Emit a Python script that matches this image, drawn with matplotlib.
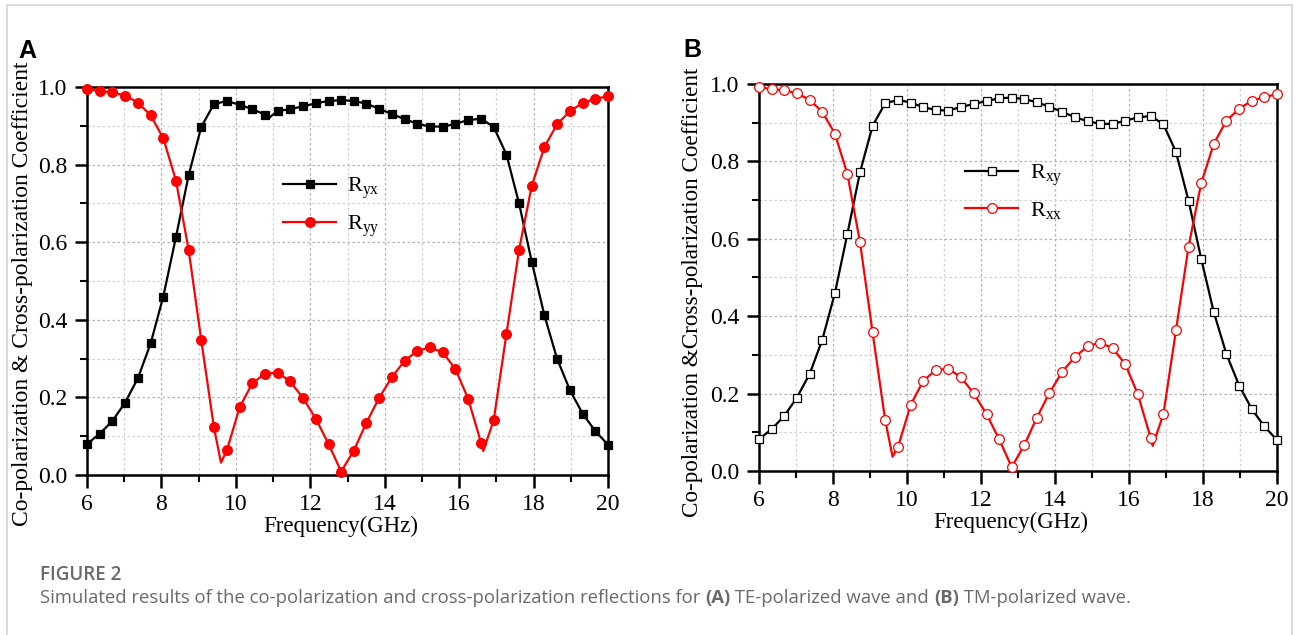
import matplotlib
matplotlib.use("Agg")
import matplotlib.pyplot as plt
from matplotlib.lines import Line2D
from matplotlib.font_manager import FontProperties
from matplotlib.ticker import MultipleLocator, FormatStrFormatter
import numpy as np

plt.rcParams['font.family'] = ['Liberation Serif', 'DejaVu Serif']
plt.rcParams['mathtext.fontset'] = 'custom'
plt.rcParams['mathtext.rm'] = 'Liberation Serif'
plt.rcParams['mathtext.it'] = 'Liberation Serif:italic'

# frequency samples (GHz) where the markers sit
freq = [6.00, 6.34, 6.68, 7.02, 7.37, 7.71, 8.05, 8.39, 8.73, 9.07, 9.41,
        9.76, 10.10, 10.44, 10.78, 11.12, 11.46, 11.80, 12.15, 12.49, 12.83,
        13.17, 13.51, 13.85, 14.20, 14.54, 14.88, 15.22, 15.56, 15.90, 16.24,
        16.59, 16.93, 17.27, 17.61, 17.95, 18.29, 18.63, 18.98, 19.32, 19.66,
        20.00]

# (A) TE wave
r_yx = [0.080, 0.106, 0.139, 0.186, 0.250, 0.339, 0.460, 0.613, 0.772, 0.897,
        0.956, 0.964, 0.954, 0.943, 0.929, 0.938, 0.943, 0.950, 0.958, 0.964,
        0.966, 0.964, 0.957, 0.944, 0.930, 0.917, 0.905, 0.898, 0.898, 0.905,
        0.915, 0.918, 0.897, 0.826, 0.700, 0.550, 0.412, 0.300, 0.218, 0.158,
        0.113, 0.078]
r_yy = [0.994, 0.990, 0.986, 0.978, 0.960, 0.927, 0.868, 0.759, 0.581, 0.348,
        0.123, 0.064, 0.174, 0.236, 0.261, 0.264, 0.241, 0.199, 0.145, 0.080,
        0.009, 0.063, 0.135, 0.199, 0.253, 0.295, 0.320, 0.329, 0.316, 0.273,
        0.197, 0.083, 0.142, 0.363, 0.580, 0.745, 0.845, 0.904, 0.938, 0.959,
        0.970, 0.976]
# sharp features of the curves that fall between markers
r_yx_extra_f = [10.90]
r_yx_extra_v = [0.921]
r_yy_extra_f = [9.60, 16.65]
r_yy_extra_v = [0.032, 0.062]

# (B) TM wave
r_xy = [0.082, 0.108, 0.142, 0.189, 0.251, 0.339, 0.459, 0.613, 0.772, 0.892,
        0.950, 0.959, 0.952, 0.940, 0.933, 0.931, 0.941, 0.948, 0.956, 0.963,
        0.965, 0.961, 0.953, 0.941, 0.928, 0.914, 0.904, 0.897, 0.897, 0.905,
        0.914, 0.917, 0.896, 0.824, 0.698, 0.549, 0.411, 0.303, 0.220, 0.160,
        0.115, 0.080]
r_xx = [0.993, 0.986, 0.984, 0.976, 0.959, 0.928, 0.872, 0.767, 0.591, 0.358,
        0.132, 0.063, 0.171, 0.233, 0.261, 0.264, 0.242, 0.201, 0.147, 0.082,
        0.010, 0.067, 0.138, 0.202, 0.257, 0.295, 0.322, 0.332, 0.317, 0.276,
        0.198, 0.084, 0.147, 0.364, 0.580, 0.743, 0.845, 0.905, 0.936, 0.957,
        0.966, 0.974]
r_xy_extra_f = []
r_xy_extra_v = []
r_xx_extra_f = [9.61, 16.64]
r_xx_extra_v = [0.037, 0.065]

x_ticks = [6, 8, 10, 12, 14, 16, 18, 20]
y_ticks = [0.0, 0.2, 0.4, 0.6, 0.8, 1.0]


def with_extra(f, v, ef, ev):
    # markers plus the extra points, sorted by frequency, for the line
    ff = np.array(list(f) + list(ef))
    vv = np.array(list(v) + list(ev))
    order = np.argsort(ff)
    return ff[order], vv[order]


def draw_panel(ax, cross, co, cross_extra, co_extra, filled):
    ax.xaxis.set_minor_locator(MultipleLocator(1))
    ax.yaxis.set_minor_locator(MultipleLocator(0.1))
    ax.grid(which='major', color='#b4b4b4', linestyle=(0, (2, 2)), linewidth=0.9)
    ax.grid(which='minor', color='#d2d2d2', linestyle=(0, (2, 2)), linewidth=0.9)
    ax.set_axisbelow(True)

    fk, vk = with_extra(freq, cross, *cross_extra)
    fr, vr = with_extra(freq, co, *co_extra)
    ax.plot(fk, vk, color='black', lw=1.6, zorder=3)
    ax.plot(fr, vr, color='#ff0000', lw=1.6, zorder=3)
    sq_face = 'black' if filled else 'white'
    ci_face = '#ff0000' if filled else 'white'
    ax.plot(freq, cross, ls='none', marker='s', ms=6, mfc=sq_face,
            mec='black', mew=0.9, zorder=4, clip_on=False)
    ax.plot(freq, co, ls='none', marker='o', ms=7, mfc=ci_face,
            mec='#ff0000', mew=0.9, zorder=4, clip_on=False)

    handles = [Line2D([], [], color='black', lw=1.6, marker='s', ms=6,
                      mfc=sq_face, mec='black', mew=0.9),
               Line2D([], [], color='#ff0000', lw=1.6, marker='o', ms=7,
                      mfc=ci_face, mec='#ff0000', mew=0.9)]
    return handles


fig = plt.figure(figsize=(12.98, 6.35), dpi=100)
W, H = 1298, 635

axA = fig.add_axes([87 / W, 1 - 475 / H, 521 / W, 388 / H])
axB = fig.add_axes([759 / W, 1 - 471 / H, 518 / W, 387 / H])

panels = [
    (axA, r_yx, r_yy, (r_yx_extra_f, r_yx_extra_v), (r_yy_extra_f, r_yy_extra_v),
     [r'R$_\mathregular{yx}$', r'R$_\mathregular{yy}$'],
     'Co-polarization & Cross-polarization Coefficient', True, (0.376, 0.690),
     17, (-0.104, 0.466)),
    (axB, r_xy, r_xx, (r_xy_extra_f, r_xy_extra_v), (r_xx_extra_f, r_xx_extra_v),
     [r'R$_\mathregular{xy}$', r'R$_\mathregular{xx}$'],
     'Co-polarization &Cross-polarization Coefficient', False, (0.398, 0.722),
     16.7, (-0.108, 0.461)),
]

tick_font = FontProperties(family='Liberation Serif', size=17)

for ax, cross, co, ce, coe, labels, ylabel, filled, legpos, ysize, ypos in panels:
    handles = draw_panel(ax, cross, co, ce, coe, filled)
    ax.set_xlim(6, 20)
    ax.set_ylim(0, 1)
    ax.set_xticks(x_ticks)
    ax.set_yticks(y_ticks)
    ax.set_xticklabels([str(v) for v in x_ticks], fontproperties=tick_font)
    ax.set_yticklabels(['%.1f' % v for v in y_ticks], fontproperties=tick_font)
    ax.tick_params(which='major', direction='out', length=9, width=1.8, pad=5)
    ax.tick_params(which='minor', direction='out', length=5, width=1.5)
    for sp in ax.spines.values():
        sp.set_linewidth(1.8)
    ax.set_xlabel('Frequency(GHz)', fontsize=16.5, labelpad=0)
    ax.xaxis.set_label_coords(0.487, -0.105)
    ax.set_ylabel(ylabel, fontsize=ysize)
    ax.yaxis.set_label_coords(*ypos)
    ax.legend(handles, labels, loc='center left', bbox_to_anchor=legpos,
              frameon=False, fontsize=16, borderpad=0, borderaxespad=0,
              handlelength=2.4, handletextpad=0.5, labelspacing=0.55)

fig.text(18 / W, 1 - 58 / H, 'A', fontsize=18, fontweight='bold',
         family='Liberation Sans', ha='left', va='baseline')
fig.text(683 / W, 1 - 57 / H, 'B', fontsize=18, fontweight='bold',
         family='Liberation Sans', ha='left', va='baseline')

# caption
fig.text(40 / W, 1 - 575 / H, 'FIGURE 2', fontsize=13.5, fontweight='semibold',
         family='Open Sans', color='#6a6a6a', ha='left', va='center')
cap_parts = [('Simulated results of the co-polarization and cross-polarization '
              'reflections for ', 'normal'), ('(A)', 'bold'),
             (' TE-polarized wave and ', 'normal'), ('(B)', 'bold'),
             (' TM-polarized wave.', 'normal')]
fig.canvas.draw()
x = 40
renderer = fig.canvas.get_renderer()
for txt, wt in cap_parts:
    t = fig.text(x / W, 1 - 598 / H, txt, fontsize=13.3, fontweight=wt,
                 family='Open Sans', color='#6a6a6a', ha='left', va='center')
    bb = t.get_window_extent(renderer)
    x += bb.width

# light frame round the figure
frame_c = '#d6d6d6'
fig.add_artist(Line2D([7 / W, 7 / W], [0, 1 - 5 / H], transform=fig.transFigure,
                      color=frame_c, lw=1.2))
fig.add_artist(Line2D([7 / W, 1292 / W], [1 - 5 / H, 1 - 5 / H],
                      transform=fig.transFigure, color=frame_c, lw=1.2))
fig.add_artist(Line2D([1292 / W, 1292 / W], [0, 1 - 5 / H],
                      transform=fig.transFigure, color=frame_c, lw=1.2))

fig.savefig('out.png', dpi=100)
